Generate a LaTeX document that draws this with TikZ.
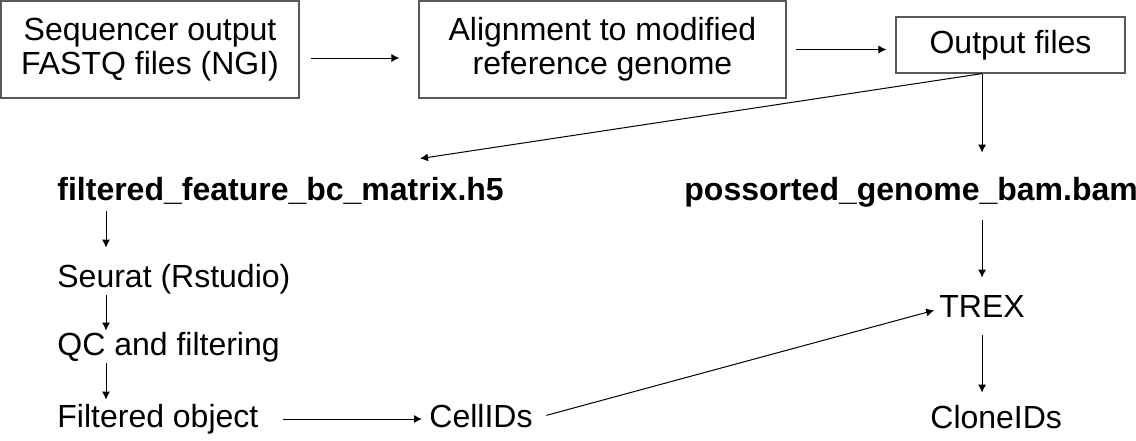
\documentclass[tikz,border=0pt]{standalone}
\usepackage{fontspec}
\setmainfont{Liberation Sans}
\usetikzlibrary{arrows.meta,calc}

\begin{document}
\begin{tikzpicture}[x=0.5pt,y=-0.5pt,
    font=\fontsize{16pt}{17pt}\selectfont,
    box/.style={draw=black!65,line width=0.6pt,align=center,inner sep=0pt},
    txt/.style={inner sep=0pt,text height=12pt,text depth=4pt,anchor=base west},
    arr/.style={-{Latex[length=4pt,width=4pt]},line width=0.5pt}]
  \useasboundingbox (0,0) rectangle (1136,440);

  \node[box,minimum width=149pt,minimum height=48.5pt] (seq) at (150,49.5) {Sequencer output\\FASTQ files (NGI)};
  \node[box,minimum width=183.5pt,minimum height=48.5pt] (align) at (602.5,49.5) {Alignment to modified\\reference genome};
  \node[box,minimum width=114.5pt,minimum height=28pt] (out) at (1010.5,45) {Output files};

  \node[txt,font=\fontsize{16pt}{17pt}\selectfont\bfseries] (h5) at (57,200) {filtered\_feature\_bc\_matrix.h5};
  \node[txt,font=\fontsize{16pt}{17pt}\selectfont\bfseries] (bam) at (684,200) {possorted\_genome\_bam.bam};

  \node[txt] (seurat) at (57,287) {Seurat (Rstudio)};
  \node[txt] (qc) at (57,355) {QC and filtering};
  \node[txt] (filt) at (57,427) {Filtered object};
  \node[txt] (cell) at (429,427) {CellIDs};
  \node[txt] (trex) at (939,317) {TREX};
  \node[txt] (clone) at (930,428) {CloneIDs};

  \coordinate (lc) at (106,0);

  \draw[arr,shorten <=5.5pt,shorten >=9.5pt] ($(seq.east)+(0,8.5)$) -- ($(align.west)+(0,8.5)$);
  \draw[arr,shorten <=4.75pt,shorten >=4.5pt] (align.east) -- (align.east -| out.west);
  \draw[arr] (out.south -| trex) -- ($(h5.north west)+(363,-17)$);
  \draw[arr,shorten >=11.5pt] (out.south -| trex) -- (bam.north -| trex);

  \draw[arr,shorten <=1.5pt,shorten >=7.5pt] (h5.south -| lc) -- (seurat.north -| lc);
  \draw[arr] (seurat.south -| lc) -- (qc.north -| lc);
  \draw[arr,shorten >=1.5pt] (qc.south -| lc) -- (filt.north -| lc);
  \draw[arr,shorten <=12pt,shorten >=3.5pt] (filt.east) -- (cell.west);
  \draw[arr,shorten <=7pt,shorten >=2.5pt] (cell.east) -- (trex.west);

  \draw[arr,shorten <=6pt,shorten >=7.5pt] (bam.south -| trex) -- (trex);
  \draw[arr,shorten <=5pt,shorten >=5.5pt] (trex) -- (clone.north -| trex);
\end{tikzpicture}
\end{document}
